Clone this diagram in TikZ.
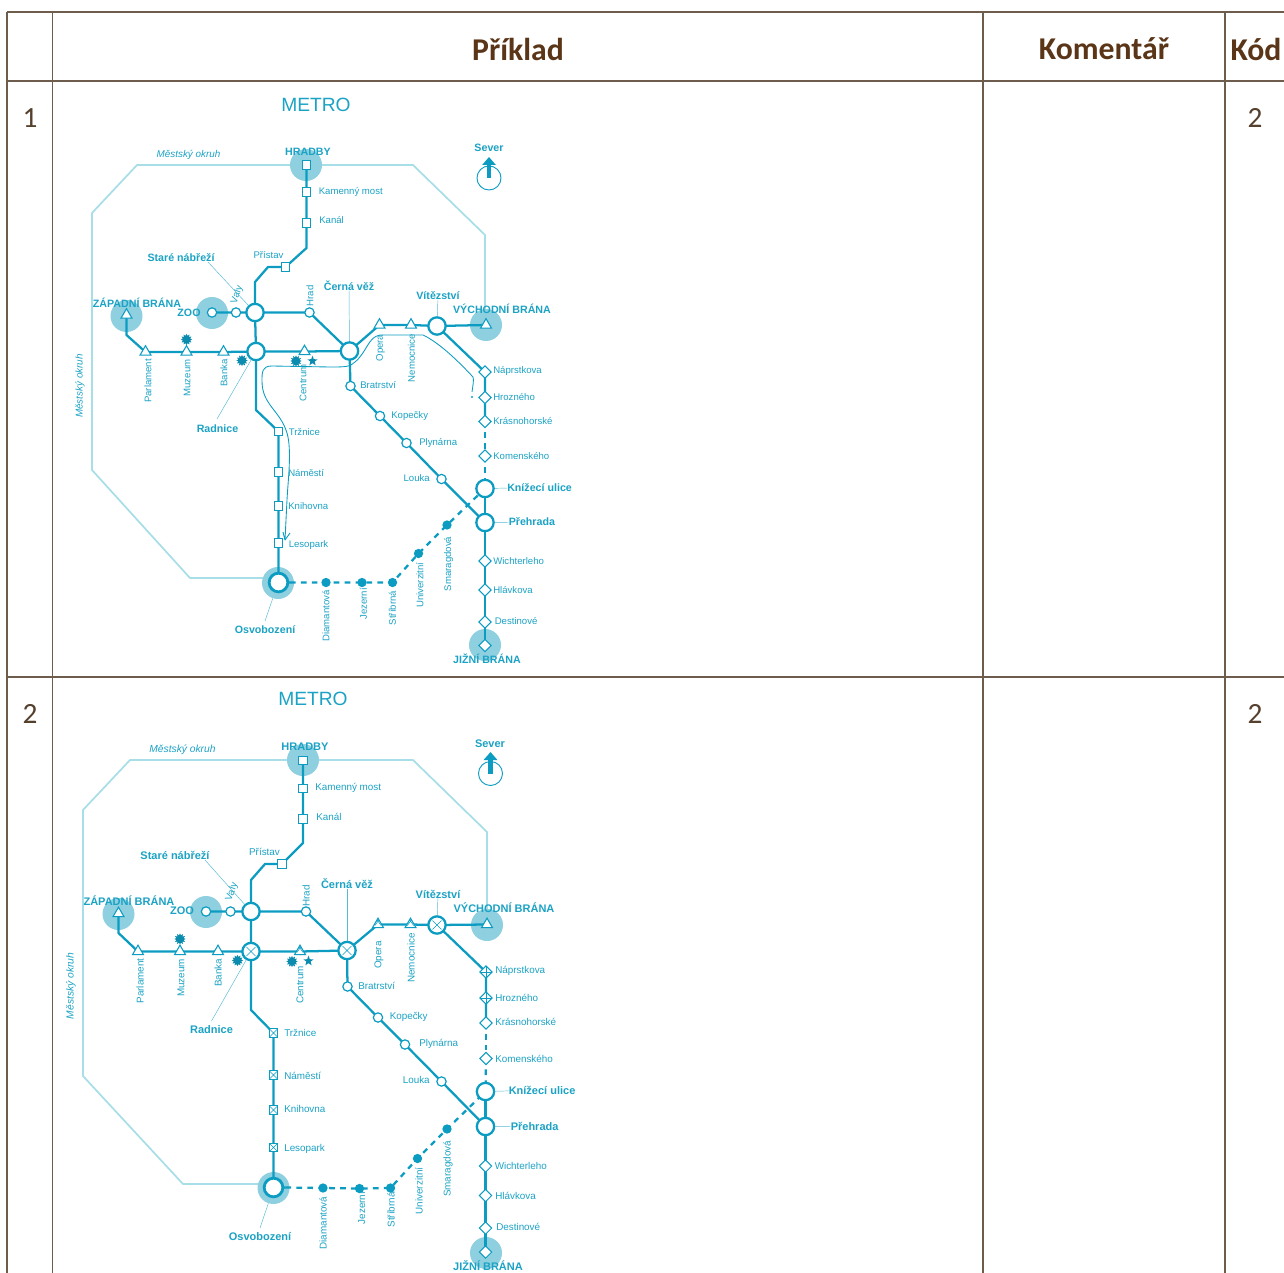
\documentclass[tikz,border=0pt]{standalone}
\usepackage{fontspec}
\setmainfont{Liberation Sans}
\newfontfamily\tablefont{Carlito}
\usetikzlibrary{shapes.geometric,arrows.meta}
\pgfdeclarelayer{ringlayer}
\pgfdeclarelayer{blobs}
\pgfdeclarelayer{tracks}
\pgfsetlayers{ringlayer,blobs,tracks,main}
\definecolor{rule}{HTML}{6E5C4C}
\definecolor{headtxt}{HTML}{5A3518}
\definecolor{numtxt}{HTML}{55402E}
\definecolor{line}{HTML}{0C9CC2}
\definecolor{txt}{HTML}{1BA2C4}
\definecolor{blob}{HTML}{8ED0DF}
\definecolor{ringc}{HTML}{A8DEE7}
\tikzset{
  tline/.style={draw=rule,line width=0.9pt},
  headt/.style={font=\tablefont\bfseries\fontsize{23.8}{26}\selectfont,text=headtxt,inner sep=0},
  numt/.style={font=\tablefont\fontsize{22}{26}\selectfont,text=numtxt,inner sep=0},
  title/.style={font=\fontsize{14.4}{16}\selectfont,text=txt,inner sep=0},
  st/.style={font=\fontsize{7.2}{9}\selectfont,text=txt,inner sep=0},
  stw/.style={st,anchor=west},
  ste/.style={st,anchor=east},
  stv/.style={st,rotate=90},
  big/.style={font=\bfseries\fontsize{8}{9}\selectfont,text=txt,inner sep=0},
  bigw/.style={big,anchor=west},
  ital/.style={font=\itshape\fontsize{7.4}{9}\selectfont,text=txt,inner sep=0},
  track/.style={draw=line,line width=1.7pt,line join=round},
  dashtrack/.style={draw=line,line width=1.7pt,dash pattern=on 4.2pt off 4pt},
  ringl/.style={draw=ringc,line width=1.3pt,line join=miter},
  leader/.style={draw=txt!75,line width=0.35pt},
  blobc/.style={circle,fill=blob,minimum size=24pt,inner sep=0},
  junction/.style={circle,draw=line,fill=white,line width=1.7pt,minimum size=13pt,inner sep=0},
  halt/.style={circle,draw=line,fill=white,line width=0.9pt,minimum size=7pt,inner sep=0},
  sq/.style={rectangle,draw=line,fill=white,line width=0.8pt,minimum size=6.5pt,inner sep=0},
  tri/.style={regular polygon,regular polygon sides=3,draw=line,fill=white,line width=0.8pt,minimum size=9.5pt,inner sep=0},
  dia/.style={diamond,draw=line,fill=white,line width=0.7pt,minimum size=9.5pt,inner sep=0},
  dotst/.style={circle,fill=line,minimum size=7pt,inner sep=0},
  sun/.style={star,star points=12,star point ratio=1.5,fill=line!90!black,minimum size=8.5pt,inner sep=0},
  starst/.style={star,star points=5,star point ratio=2.4,fill=line!90!black,minimum size=8pt,inner sep=0},
  compass/.style={circle,draw=line,fill=white,line width=0.7pt,minimum size=18pt,inner sep=0},
  northarrow/.style={draw=line,line width=3.6pt,-{Triangle[length=6pt,width=10pt]}},
  xj/.style={junction,path picture={\draw[line width=.4pt,draw=line] (path picture bounding box.center)++(-3.4pt,-3.4pt) -- ++(6.8pt,6.8pt) (path picture bounding box.center)++(-3.4pt,3.4pt) -- ++(6.8pt,-6.8pt);}},
  xs/.style={sq,path picture={\draw[line width=.4pt,draw=line] (path picture bounding box.south west) -- (path picture bounding box.north east) (path picture bounding box.north west) -- (path picture bounding box.south east);}},
  xt/.style={tri,path picture={\draw[line width=.4pt,draw=line] (path picture bounding box.center)++(-2.4pt,-2pt) -- ++(3.6pt,5pt) (path picture bounding box.center)++(2.4pt,-2pt) -- ++(-3.6pt,5pt);}},
  pd/.style={dia,path picture={\draw[line width=.4pt,draw=line] (path picture bounding box.west) -- (path picture bounding box.east) (path picture bounding box.north) -- (path picture bounding box.south);}},
}
\begin{document}
\begin{tikzpicture}[x=0.75pt,y=-0.75pt]
\useasboundingbox (0,0) rectangle (1284,1273);
% ---------- table ----------
\draw[tline] (7,12) -- (1284,12) (7,81) -- (1284,81) (7,677) -- (1284,677);
\draw[tline] (7,12) -- (7,1273) (52.5,12) -- (52.5,1273) (983,12) -- (983,1273) (1225,12) -- (1225,1273);
\node[headt] (h-ex) at (518,49) {Příklad};
\node[headt] (h-co) at (1104,49) {Komentář};
\node[headt] (h-kod) at (1256,49) {Kód};
\node[numt] (n1) at (30,118) {1};
\node[numt] (k1) at (1255,118) {2};
\node[numt] (n2) at (30,714) {2};
\node[numt] (k2) at (1255,714) {2};

% ================= MAP 1 =================
\coordinate (a-r1) at (92,213); \coordinate (a-r2) at (137,165); \coordinate (a-r3) at (413,165);
\coordinate (a-r4) at (485,235); \coordinate (a-r5) at (485,322); \coordinate (a-r6) at (92,470);
\coordinate (a-r7) at (190,578); \coordinate (a-r8) at (268,578);
\begin{pgfonlayer}{ringlayer}
\draw[ringl] (a-r8) -- (a-r7) -- (a-r6) -- (a-r1) -- (a-r2) -- (a-r3) -- (a-r4) -- (a-r5);
\end{pgfonlayer}
\begin{pgfonlayer}{blobs}
\node[blobc] (a-bh) at (306,165) {};
\node[blobc] (a-bz) at (126.5,316) {};
\node[blobc] (a-bzoo) at (212,313) {};
\node[blobc] (a-bv) at (486,325) {};
\node[blobc] (a-bo) at (278,583) {};
\node[blobc] (a-bj) at (485,645) {};
\end{pgfonlayer}
% stations
\node[sq] (a-hr) at (306.5,165) {};
\node[sq] (a-kam) at (306.5,192) {};
\node[sq] (a-kan) at (306.5,223) {};
\node[sq] (a-pri) at (285.5,267) {};
\node[junction] (a-j1) at (255,312.5) {};
\node[junction] (a-j2) at (256,351.5) {};
\node[junction] (a-cv) at (349.5,351) {};
\node[junction] (a-vit) at (437,326) {};
\node[junction] (a-kn) at (485,488.5) {};
\node[junction] (a-pre) at (485,522.5) {};
\node[junction,line width=2.1pt,minimum size=14pt] (a-osv) at (278.5,582.5) {};
\node[halt] (a-zoo) at (212,312.5) {};
\node[halt] (a-val) at (236,312.5) {};
\node[halt] (a-hra) at (309.5,312.5) {};
\node[halt] (a-bra) at (350.5,386) {};
\node[halt] (a-kop) at (380,416) {};
\node[halt] (a-ply) at (406.5,443) {};
\node[halt] (a-lou) at (441.5,479) {};
\node[tri] (a-zap) at (126.5,315) {};
\node[tri] (a-par) at (145.5,352) {};
\node[tri] (a-muz) at (186.5,352) {};
\node[tri] (a-ban) at (223.5,352) {};
\node[tri] (a-cen) at (304.5,351.5) {};
\node[tri] (a-ope) at (379.5,325) {};
\node[tri] (a-nem) at (411,325) {};
\node[tri] (a-vyc) at (486,325) {};
\node[dia] (a-nap) at (485,372) {};
\node[dia] (a-hro) at (485,397.5) {};
\node[dia] (a-kra) at (485,421.5) {};
\node[dia] (a-kom) at (485,456) {};
\node[dia] (a-wic) at (485,561) {};
\node[dia] (a-hla) at (485,590) {};
\node[dia] (a-des) at (485,622) {};
\node[dia] (a-jiz) at (485,645.5) {};
\node[sq] (a-trz) at (278.5,431.5) {};
\node[sq] (a-nam) at (278.5,472) {};
\node[sq] (a-kni) at (278.5,506) {};
\node[sq] (a-les) at (278.5,543) {};
\node[dotst] (a-dia) at (326,582.5) {};
\node[dotst] (a-jez) at (362,582.5) {};
\node[dotst] (a-str) at (392.5,582.5) {};
\node[dotst] (a-uni) at (418.5,553.5) {};
\node[dotst] (a-sma) at (447,525) {};
\node[sun] (a-s1) at (186.5,339.5) {};
\node[sun] (a-s2) at (242,360.5) {};
\node[sun] (a-s3) at (296,361) {};
\node[starst] (a-s4) at (312.5,361) {};
% track bends
\coordinate (a-b1) at (306.5,248); \coordinate (a-b2) at (268,267); \coordinate (a-b3) at (255,282);
\coordinate (a-b4) at (126.5,335); \coordinate (a-b5) at (256,410); \coordinate (a-stub) at (290,582.5);
\begin{pgfonlayer}{tracks}
\draw[track] (a-hr.center) -- (a-kam.center) -- (a-kan.center) -- (a-b1) -- (a-pri.center) -- (a-b2) -- (a-b3) -- (a-j1.center) -- (a-j2.center) -- (a-b5) -- (a-trz.center) -- (a-nam.center) -- (a-kni.center) -- (a-les.center) -- (a-osv.center) -- (a-stub);
\draw[track] (a-zoo.center) -- (a-val.center) -- (a-j1.center) -- (a-hra.center) -- (a-cv.center) -- (a-ope.center) -- (a-nem.center) -- (a-vit.center) -- (a-vyc.center);
\draw[track] (a-zap.center) -- (a-b4) -- (a-par.center) -- (a-muz.center) -- (a-ban.center) -- (a-j2.center) -- (a-cen.center) -- (a-cv.center) -- (a-bra.center) -- (a-kop.center) -- (a-ply.center) -- (a-lou.center) -- (a-pre.center);
\draw[track] (a-vit.center) -- (a-nap.center) -- (a-hro.center) -- (a-kra.center);
\draw[dashtrack] (a-kra.center) -- (a-kom.center);
\draw[dashtrack] (a-kom.center) -- (a-kn.center);
\draw[track] (a-kn.center) -- (a-pre.center) -- (a-wic.center) -- (a-hla.center) -- (a-des.center) -- (a-jiz.center);
\draw[dashtrack] (a-stub) -- (a-dia.center) -- (a-jez.center) -- (a-str.center) -- (a-uni.center) -- (a-sma.center) -- (a-kn.center);
\end{pgfonlayer}
% hand-drawn route
\coordinate (a-h0) at (472,392);
\coordinate (a-h1) at (285,540);
\node[circle,fill=line,minimum size=1.8pt,inner sep=0] (a-hdot) at (472,397) {};
\draw[draw=line,line width=0.65pt,line join=round] (a-h0) .. controls (473,385) and (474,380) .. (473,377) .. controls (460,363) and (440,343) .. (423,335) -- (380,335) .. controls (368,337) and (367,352) .. (355,362) .. controls (350,367) and (345,367) .. (330,367) -- (272,366) .. controls (262,366) and (262,372) .. (262,381) .. controls (262,405) and (280,410) .. (287,433) .. controls (292,450) and (288,480) .. (287,500) -- (285,540) -- (283,532);
\draw[draw=line,line width=0.65pt] (a-h1) -- (290,533);
% labels
\node[title] (a-t) at (316,105) {METRO};
\node[ital] (a-mo) at (188.5,155) {Městský okruh};
\node[ital,rotate=90] (a-mo2) at (80,386) {Městský okruh};
\node[big] (a-l-hr) at (308,152) {HRADBY};
\node[big] (a-l-se) at (489,148) {Sever};
\node[compass] (a-com) at (489,178) {};
\coordinate (a-nor) at (489,157);
\draw[northarrow] (a-com.center) -- (a-nor);
\node[stw] (a-l-kam) at (318.5,192) {Kamenný most};
\node[stw] (a-l-kan) at (319,220) {Kanál};
\node[st] (a-l-pri) at (268.5,255) {Přístav};
\node[big] (a-l-sta) at (181,258) {Staré nábřeží};
\node[st,rotate=70] (a-l-val) at (237,295) {Valy};
\node[stv] (a-l-hra) at (310,296) {Hrad};
\node[big] (a-l-cv) at (349,286) {Černá věž};
\node[big] (a-l-vit) at (438,296) {Vítězství};
\node[big] (a-l-vyc) at (502,309) {VÝCHODNÍ BRÁNA};
\node[big] (a-l-zap) at (137,303) {ZÁPADNÍ BRÁNA};
\node[big] (a-l-zoo) at (189,312.5) {ZOO};
\node[stv] (a-l-par) at (148,381) {Parlament};
\node[stv] (a-l-muz) at (187,378) {Muzeum};
\node[stv] (a-l-ban) at (224,373) {Banka};
\node[stv] (a-l-cen) at (303,383) {Centrum};
\node[stv] (a-l-ope) at (380.5,348) {Opera};
\node[stv] (a-l-nem) at (411.5,358) {Nemocnice};
\node[stw] (a-l-bra) at (360,385) {Bratrství};
\node[stw] (a-l-kop) at (391,416) {Kopečky};
\node[stw] (a-l-ply) at (419,443) {Plynárna};
\node[ste] (a-l-lou) at (430,478) {Louka};
\node[stw] (a-l-nap) at (493,371) {Náprstkova};
\node[stw] (a-l-hro) at (493,397) {Hrozného};
\node[stw] (a-l-kra) at (493,421) {Krásnohorské};
\node[stw] (a-l-kom) at (493,456) {Komenského};
\node[bigw] (a-l-kn) at (507,487.5) {Knížecí ulice};
\node[bigw] (a-l-pre) at (508.5,522) {Přehrada};
\node[stw] (a-l-wic) at (493,561) {Wichterleho};
\node[stw] (a-l-hla) at (493,590) {Hlávkova};
\node[stw] (a-l-des) at (494.5,621) {Destinové};
\node[big] (a-l-jiz) at (487,659) {JIŽNÍ BRÁNA};
\node[stw] (a-l-trz) at (288.5,432) {Tržnice};
\node[stw] (a-l-nam) at (288,473) {Náměstí};
\node[stw] (a-l-kni) at (288,506) {Knihovna};
\node[stw] (a-l-les) at (288.5,545) {Lesopark};
\node[big] (a-l-rad) at (217.5,428.5) {Radnice};
\node[big] (a-l-osv) at (265,630) {Osvobození};
\node[stv] (a-l-dia) at (326,616) {Diamantová};
\node[stv] (a-l-jez) at (363.5,604) {Jezerní};
\node[stv] (a-l-str) at (392.5,608) {Stříbrná};
\node[stv] (a-l-uni) at (420,585) {Univerzitní};
\node[stv] (a-l-sma) at (448.5,564) {Smaragdová};
% leaders
\coordinate (a-c1) at (208,262); \coordinate (a-c2) at (217,419); \coordinate (a-c3) at (265,621);
\draw[leader] (a-c1) -- (a-j1);
\draw[leader] (a-c2) -- (a-j2);
\draw[leader] (a-c3) -- (a-bo);
\draw[leader] (a-l-cv) -- (a-cv);
\draw[leader] (a-l-vit) -- (a-vit);
\draw[leader] (a-kn) -- (a-l-kn);
\draw[leader] (a-pre) -- (a-l-pre);

% ================= MAP 2 =================
\begin{scope}[
  st/.style={font=\fontsize{7.4}{9}\selectfont,text=txt,inner sep=0},
  big/.style={font=\bfseries\fontsize{8.25}{9}\selectfont,text=txt,inner sep=0},
  ital/.style={font=\itshape\fontsize{7.7}{9}\selectfont,text=txt,inner sep=0}]
\coordinate (b-r1) at (83,810); \coordinate (b-r2) at (130,760); \coordinate (b-r3) at (413,760);
\coordinate (b-r4) at (487,832); \coordinate (b-r5) at (487,920); \coordinate (b-r6) at (83,1076);
\coordinate (b-r7) at (183,1184); \coordinate (b-r8) at (265,1184);
\begin{pgfonlayer}{ringlayer}
\draw[ringl] (b-r8) -- (b-r7) -- (b-r6) -- (b-r1) -- (b-r2) -- (b-r3) -- (b-r4) -- (b-r5);
\end{pgfonlayer}
\begin{pgfonlayer}{blobs}
\node[blobc] (b-bh) at (303,760) {};
\node[blobc] (b-bz) at (118.5,914) {};
\node[blobc] (b-bzoo) at (206,912) {};
\node[blobc] (b-bv) at (487,925) {};
\node[blobc] (b-bo) at (273.5,1188) {};
\node[blobc] (b-bj) at (486,1253) {};
\end{pgfonlayer}
\node[sq] (b-hr) at (303,760.5) {};
\node[sq] (b-kam) at (303,788.5) {};
\node[sq] (b-kan) at (303,819) {};
\node[sq] (b-pri) at (282,864) {};
\node[junction] (b-j1) at (251,911.5) {};
\node[xj] (b-j2) at (251,951.5) {};
\node[xj] (b-cv) at (347,950.5) {};
\node[xj] (b-vit) at (437,925) {};
\node[junction] (b-kn) at (485.5,1091.5) {};
\node[junction] (b-pre) at (485.5,1126.5) {};
\node[junction,line width=2.1pt,minimum size=14pt] (b-osv) at (273.5,1187.5) {};
\node[halt] (b-zoo) at (206,911.5) {};
\node[halt] (b-val) at (230.5,911.5) {};
\node[halt] (b-hra) at (306,911.5) {};
\node[halt] (b-bra) at (347.5,986.5) {};
\node[halt] (b-kop) at (378,1017.5) {};
\node[halt] (b-ply) at (405,1044.5) {};
\node[halt] (b-lou) at (441.5,1081.5) {};
\node[tri] (b-zap) at (118.5,913.5) {};
\node[tri] (b-par) at (138,951.5) {};
\node[tri] (b-muz) at (180,951.5) {};
\node[tri] (b-ban) at (218,951.5) {};
\node[xt] (b-cen) at (300,951.5) {};
\node[xt] (b-ope) at (378,924.5) {};
\node[xt] (b-nem) at (410.5,924.5) {};
\node[tri] (b-vyc) at (487,924.5) {};
\node[pd] (b-nap) at (486,972) {};
\node[pd] (b-hro) at (486,998) {};
\node[dia] (b-kra) at (486,1023) {};
\node[dia] (b-kom) at (486,1058.5) {};
\node[dia] (b-wic) at (485.5,1166) {};
\node[dia] (b-hla) at (485.5,1195.5) {};
\node[dia] (b-des) at (485.5,1228) {};
\node[dia] (b-jiz) at (485.5,1252) {};
\node[xs] (b-trz) at (273.5,1033) {};
\node[xs] (b-nam) at (273.5,1075) {};
\node[xs] (b-kni) at (273.5,1110) {};
\node[xs] (b-les) at (273.5,1147.5) {};
\node[dotst] (b-dia) at (323,1188) {};
\node[dotst] (b-jez) at (359.5,1188.5) {};
\node[dotst] (b-str) at (390.5,1188) {};
\node[dotst] (b-uni) at (417.5,1158.5) {};
\node[dotst] (b-sma) at (447,1129) {};
\node[sun] (b-s1) at (180,939) {};
\node[sun] (b-s2) at (237.5,960.5) {};
\node[sun] (b-s3) at (292,961.5) {};
\node[starst] (b-s4) at (308.5,961) {};
\coordinate (b-b1) at (303,843); \coordinate (b-b2) at (265,864); \coordinate (b-b3) at (251,880);
\coordinate (b-b4) at (118.5,933); \coordinate (b-b5) at (251,1010); \coordinate (b-stub) at (285.5,1187.5);
\begin{pgfonlayer}{tracks}
\draw[track] (b-hr.center) -- (b-kam.center) -- (b-kan.center) -- (b-b1) -- (b-pri.center) -- (b-b2) -- (b-b3) -- (b-j1.center) -- (b-j2.center) -- (b-b5) -- (b-trz.center) -- (b-nam.center) -- (b-kni.center) -- (b-les.center) -- (b-osv.center) -- (b-stub);
\draw[track] (b-zoo.center) -- (b-val.center) -- (b-j1.center) -- (b-hra.center) -- (b-cv.center) -- (b-ope.center) -- (b-nem.center) -- (b-vit.center) -- (b-vyc.center);
\draw[track] (b-zap.center) -- (b-b4) -- (b-par.center) -- (b-muz.center) -- (b-ban.center) -- (b-j2.center) -- (b-cen.center) -- (b-cv.center) -- (b-bra.center) -- (b-kop.center) -- (b-ply.center) -- (b-lou.center) -- (b-pre.center);
\draw[track] (b-vit.center) -- (b-nap.center) -- (b-hro.center) -- (b-kra.center);
\draw[dashtrack] (b-kra.center) -- (b-kom.center);
\draw[dashtrack] (b-kom.center) -- (b-kn.center);
\draw[track] (b-kn.center) -- (b-pre.center) -- (b-wic.center) -- (b-hla.center) -- (b-des.center) -- (b-jiz.center);
\draw[dashtrack] (b-stub) -- (b-dia.center) -- (b-jez.center) -- (b-str.center) -- (b-uni.center) -- (b-sma.center) -- (b-kn.center);
\end{pgfonlayer}
\node[title] (b-t) at (313,699) {METRO};
\node[ital] (b-mo) at (182.5,749.5) {Městský okruh};
\node[ital,rotate=90] (b-mo2) at (71,986) {Městský okruh};
\node[big] (b-l-hr) at (305,747) {HRADBY};
\node[big] (b-l-se) at (490,743.5) {Sever};
\node[compass] (b-com) at (490.5,773.5) {};
\coordinate (b-nor) at (490.5,752);
\draw[northarrow] (b-com.center) -- (b-nor);
\node[stw] (b-l-kam) at (315,788) {Kamenný most};
\node[stw] (b-l-kan) at (316,817) {Kanál};
\node[st] (b-l-pri) at (264.5,852) {Přístav};
\node[big] (b-l-sta) at (175,855) {Staré nábřeží};
\node[st,rotate=70] (b-l-val) at (232,892) {Valy};
\node[stv] (b-l-hra) at (306,896) {Hrad};
\node[big] (b-l-cv) at (347,884) {Černá věž};
\node[big] (b-l-vit) at (438,894) {Vítězství};
\node[big] (b-l-vyc) at (504,908) {VÝCHODNÍ BRÁNA};
\node[big] (b-l-zap) at (129,901) {ZÁPADNÍ BRÁNA};
\node[big] (b-l-zoo) at (182,911) {ZOO};
\node[stv] (b-l-par) at (140,981) {Parlament};
\node[stv] (b-l-muz) at (181,978) {Muzeum};
\node[stv] (b-l-ban) at (218,973) {Banka};
\node[stv] (b-l-cen) at (300,985) {Centrum};
\node[stv] (b-l-ope) at (379,955) {Opera};
\node[stv] (b-l-nem) at (411,958) {Nemocnice};
\node[stw] (b-l-bra) at (358,986) {Bratrství};
\node[stw] (b-l-kop) at (389.5,1017) {Kopečky};
\node[stw] (b-l-ply) at (419,1044) {Plynárna};
\node[ste] (b-l-lou) at (430,1080) {Louka};
\node[stw] (b-l-nap) at (495,971) {Náprstkova};
\node[stw] (b-l-hro) at (495,998) {Hrozného};
\node[stw] (b-l-kra) at (495,1022) {Krásnohorské};
\node[stw] (b-l-kom) at (495,1058.5) {Komenského};
\node[bigw] (b-l-kn) at (508.5,1090) {Knížecí ulice};
\node[bigw] (b-l-pre) at (510.5,1126) {Přehrada};
\node[stw] (b-l-wic) at (494.5,1165.5) {Wichterleho};
\node[stw] (b-l-hla) at (495,1195.5) {Hlávkova};
\node[stw] (b-l-des) at (496,1227) {Destinové};
\node[big] (b-l-jiz) at (488,1266) {JIŽNÍ BRÁNA};
\node[stw] (b-l-trz) at (284,1033) {Tržnice};
\node[stw] (b-l-nam) at (284,1075.5) {Náměstí};
\node[stw] (b-l-kni) at (284,1108.5) {Knihovna};
\node[stw] (b-l-les) at (284,1149) {Lesopark};
\node[big] (b-l-rad) at (211.5,1030) {Radnice};
\node[big] (b-l-osv) at (260,1236.5) {Osvobození};
\node[stv] (b-l-dia) at (323,1223) {Diamantová};
\node[stv] (b-l-jez) at (361.5,1208) {Jezerní};
\node[stv] (b-l-str) at (391,1210) {Stříbrná};
\node[stv] (b-l-uni) at (419,1191) {Univerzitní};
\node[stv] (b-l-sma) at (448,1169) {Smaragdová};
\coordinate (b-c1) at (205,860); \coordinate (b-c2) at (211.5,1021); \coordinate (b-c3) at (260,1228);
\draw[leader] (b-c1) -- (b-j1);
\draw[leader] (b-c2) -- (b-j2);
\draw[leader] (b-c3) -- (b-bo);
\draw[leader] (b-l-cv) -- (b-cv);
\draw[leader] (b-l-vit) -- (b-vit);
\draw[leader] (b-kn) -- (b-l-kn);
\draw[leader] (b-pre) -- (b-l-pre);
\end{scope}
\end{tikzpicture}
\end{document}
